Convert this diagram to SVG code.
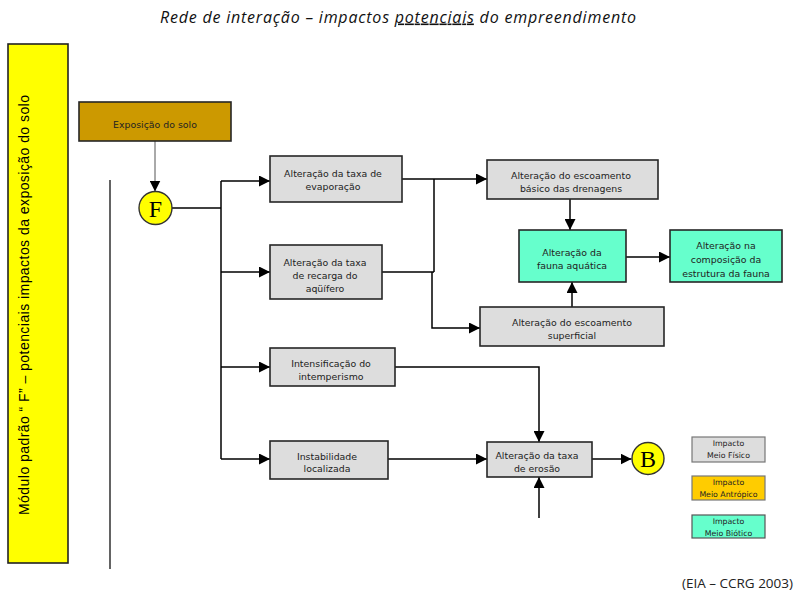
<svg xmlns="http://www.w3.org/2000/svg" width="795" height="594" viewBox="0 0 795 594">
  <style>
    .box { stroke: #262626; stroke-width: 1.6; }
    .fis { fill: #dddddd; }
    .bio { fill: #66ffcc; }
    .ant { fill: #ffcc00; }
    .lbl { font-family: "DejaVu Sans", Verdana, sans-serif; font-size: 9.4px; fill: #222; text-anchor: middle; }
    .leg { font-family: "DejaVu Sans", Verdana, sans-serif; font-size: 7.8px; fill: #222; text-anchor: middle; }
    .wire { fill: none; stroke: #000; stroke-width: 1.5; }
    .circ { fill: #ffff00; stroke: #333; stroke-width: 1.4; }
    .letter { font-family: "Liberation Serif", "Times New Roman", serif; font-size: 24px; fill: #000; text-anchor: middle; }
  </style>
  <defs>
    <marker id="arr" viewBox="0 0 10 10" refX="10" refY="5" markerWidth="11" markerHeight="11" markerUnits="userSpaceOnUse" orient="auto">
      <path d="M0,0 L10,5 L0,10 Z" fill="#000"/>
    </marker>
  </defs>

  <rect width="795" height="594" fill="#ffffff"/>

  <!-- heading -->
  <text x="398" y="22.5" font-family="'Open Sans', 'DejaVu Sans', sans-serif" font-style="italic" font-size="16" fill="#111" text-anchor="middle" textLength="476">Rede de interação – impactos <tspan text-decoration="underline">potenciais</tspan> do empreendimento</text>

  <!-- side band -->
  <g id="module-band">
    <rect x="8" y="44" width="60" height="519" fill="#ffff00" stroke="#222" stroke-width="1.6"/>
    <text transform="translate(28.5,305) rotate(-90)" font-family="'Liberation Sans', Arial, sans-serif" font-size="14" fill="#000" text-anchor="middle" textLength="420">Módulo padrão “ F” – potenciais impactos da exposição do solo</text>
  </g>

  <!-- separator -->
  <line x1="110" y1="180" x2="110" y2="569" stroke="#222" stroke-width="1.4"/>

  <!-- connectors -->
  <g id="connectors">
    <path d="M155,141 V191.5" fill="none" stroke="#555" stroke-width="1" marker-end="url(#arr)"/>
    <path class="wire" d="M172,208 H221"/>
    <path class="wire" d="M221,181 V459"/>
    <path class="wire" d="M221,181 H270" marker-end="url(#arr)"/>
    <path class="wire" d="M221,272 H270" marker-end="url(#arr)"/>
    <path class="wire" d="M221,367 H270" marker-end="url(#arr)"/>
    <path class="wire" d="M221,459 H270" marker-end="url(#arr)"/>
    <path class="wire" d="M402,179 H487" marker-end="url(#arr)"/>
    <path class="wire" d="M434,179 V272"/>
    <path class="wire" d="M382,272 H434"/>
    <path class="wire" d="M432,272 V328 H480" marker-end="url(#arr)"/>
    <path class="wire" d="M570,199 V230" marker-end="url(#arr)"/>
    <path class="wire" d="M572,307 V282" marker-end="url(#arr)"/>
    <path class="wire" d="M626,257 H670" marker-end="url(#arr)"/>
    <path class="wire" d="M395,367 H539 V442" marker-end="url(#arr)"/>
    <path class="wire" d="M388,459 H487" marker-end="url(#arr)"/>
    <path class="wire" d="M539,518 V477" marker-end="url(#arr)"/>
    <path class="wire" d="M592,459 H631.5" marker-end="url(#arr)"/>
  </g>

  <!-- nodes -->
  <g id="exposicao-solo">
    <rect class="box" x="79" y="102" width="152" height="39" fill="#cc9900"/>
    <text class="lbl" x="155" y="127.5">Exposição do solo</text>
  </g>

  <g id="node-f">
    <circle class="circ" cx="155.5" cy="208" r="16.5"/>
    <text class="letter" x="155.5" y="216.5">F</text>
  </g>

  <g id="evaporacao">
    <rect class="box fis" x="270" y="156" width="132" height="46"/>
    <text class="lbl" x="333" y="176.5">Alteração da taxa de</text>
    <text class="lbl" x="333" y="189.5">evaporação</text>
  </g>

  <g id="recarga">
    <rect class="box fis" x="270" y="245" width="112" height="54"/>
    <text class="lbl" x="325" y="265.5">Alteração da taxa</text>
    <text class="lbl" x="325" y="278.5">de recarga do</text>
    <text class="lbl" x="325" y="291.5">aqüífero</text>
  </g>

  <g id="intemperismo">
    <rect class="box fis" x="270" y="348" width="125" height="38"/>
    <text class="lbl" x="331" y="366.5">Intensificação do</text>
    <text class="lbl" x="331" y="379.5">intemperismo</text>
  </g>

  <g id="instabilidade">
    <rect class="box fis" x="270" y="441" width="118" height="38"/>
    <text class="lbl" x="327" y="459.5">Instabilidade</text>
    <text class="lbl" x="327" y="471.5">localizada</text>
  </g>

  <g id="escoamento-basico">
    <rect class="box fis" x="487" y="160" width="171" height="39"/>
    <text class="lbl" x="571" y="178.5">Alteração do escoamento</text>
    <text class="lbl" x="571" y="191.5">básico das drenagens</text>
  </g>

  <g id="fauna-aquatica">
    <rect class="box bio" x="519" y="230" width="107" height="52"/>
    <text class="lbl" x="572" y="255.5">Alteração da</text>
    <text class="lbl" x="572" y="268.5">fauna aquática</text>
  </g>

  <g id="estrutura-fauna">
    <rect class="box bio" x="670" y="230" width="112" height="52"/>
    <text class="lbl" x="726" y="248.5">Alteração na</text>
    <text class="lbl" x="726" y="262.5">composição da</text>
    <text class="lbl" x="726" y="276.5">estrutura da fauna</text>
  </g>

  <g id="escoamento-superficial">
    <rect class="box fis" x="480" y="307" width="184" height="39"/>
    <text class="lbl" x="572" y="325.5">Alteração do escoamento</text>
    <text class="lbl" x="572" y="338.5">superficial</text>
  </g>

  <g id="erosao">
    <rect class="box fis" x="487" y="442" width="105" height="35"/>
    <text class="lbl" x="537" y="458.5">Alteração da taxa</text>
    <text class="lbl" x="537" y="471.5">de erosão</text>
  </g>

  <g id="node-b">
    <circle class="circ" cx="648" cy="458.5" r="16"/>
    <text class="letter" x="648" y="467">B</text>
  </g>

  <!-- legend -->
  <g id="legend-fisico">
    <rect x="692" y="437" width="73" height="25" class="fis" stroke="#777" stroke-width="1.2"/>
    <text class="leg" x="728.5" y="446">Impacto</text>
    <text class="leg" x="728.5" y="458">Meio Físico</text>
  </g>
  <g id="legend-antropico">
    <rect x="692" y="476" width="73" height="24" class="ant" stroke="#777" stroke-width="1.2"/>
    <text class="leg" x="728.5" y="484.5">Impacto</text>
    <text class="leg" x="728.5" y="496.5">Meio Antrópico</text>
  </g>
  <g id="legend-biotico">
    <rect x="692" y="515" width="73" height="23" class="bio" stroke="#555" stroke-width="1.2"/>
    <text class="leg" x="728.5" y="523.5">Impacto</text>
    <text class="leg" x="728.5" y="535.5">Meio Biótico</text>
  </g>

  <!-- source -->
  <text x="793" y="588" font-family="'Open Sans', 'DejaVu Sans', sans-serif" font-size="13.5" fill="#222" text-anchor="end" textLength="111">(EIA – CCRG 2003)</text>
</svg>
